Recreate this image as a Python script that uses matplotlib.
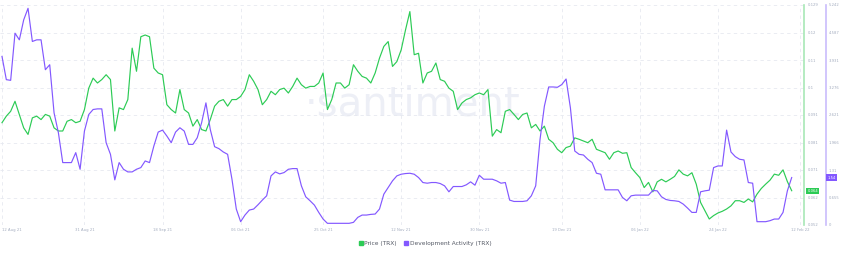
import matplotlib
matplotlib.use('Agg')
import matplotlib.pyplot as plt
import matplotlib.dates as mdates
from matplotlib.lines import Line2D
import numpy as np
import pandas as pd

# daily values, 12 Aug 2021 onwards
start = '2021-08-12'

price = [
    0.0878, 0.0901, 0.0918, 0.0953, 0.0907, 0.0860, 0.0837, 0.0895, 0.0901, 0.0889,
    0.0907, 0.0901, 0.0860, 0.0849, 0.0849, 0.0883, 0.0889, 0.0878, 0.0883, 0.0924,
    0.0999, 0.1034, 0.1017, 0.1029, 0.1046, 0.1029, 0.0849, 0.0930, 0.0924, 0.0959,
    0.1139, 0.1058, 0.1179, 0.1185, 0.1179, 0.1069, 0.1052, 0.1046, 0.0941, 0.0924,
    0.0912, 0.0994, 0.0924, 0.0912, 0.0866, 0.0889,
    0.0854, 0.0849, 0.0889, 0.0936, 0.0953, 0.0959, 0.0936, 0.0959, 0.0959, 0.0970,
    0.0994, 0.1046, 0.1023, 0.0994, 0.0941, 0.0959, 0.0988, 0.0976, 0.0994, 0.0999,
    0.0982, 0.1005, 0.1034, 0.1011, 0.0999, 0.1005, 0.1005, 0.1017, 0.1052, 0.0924,
    0.0959, 0.1017, 0.1017, 0.0999, 0.1011, 0.1081, 0.1058, 0.1040, 0.1034, 0.1017,
    0.1052, 0.1104, 0.1145, 0.1162, 0.1075, 0.1092,
    0.1133, 0.1203, 0.1267, 0.1116, 0.1121, 0.1017, 0.1052, 0.1058, 0.1087, 0.1029,
    0.1023, 0.0999, 0.0988, 0.0924, 0.0947, 0.0959, 0.0965, 0.0976, 0.0982, 0.0976,
    0.0994, 0.0831, 0.0854, 0.0843, 0.0918, 0.0924, 0.0907, 0.0889, 0.0907, 0.0912,
    0.0860, 0.0872, 0.0849, 0.0866, 0.0820, 0.0808, 0.0785, 0.0773, 0.0791, 0.0796,
    0.0825, 0.0820, 0.0814, 0.0808, 0.0820, 0.0785,
    0.0779, 0.0773, 0.0750, 0.0773, 0.0779, 0.0771, 0.0773, 0.0721, 0.0703, 0.0686,
    0.0651, 0.0669, 0.0636, 0.0671, 0.0680, 0.0671, 0.0680, 0.0690, 0.0713, 0.0698,
    0.0692, 0.0703, 0.0663, 0.0599, 0.0570, 0.0541, 0.0553, 0.0562, 0.0568, 0.0576,
    0.0587, 0.0605, 0.0605, 0.0599, 0.0611, 0.0601, 0.0628, 0.0648, 0.0663, 0.0677,
    0.0698, 0.0694, 0.0713, 0.0672, 0.0640,
]

dev_activity = [
    4.017, 3.463, 3.447, 4.570, 4.412, 4.887, 5.163, 4.373, 4.412, 4.412,
    3.700, 3.819, 2.673, 2.198, 1.487, 1.487, 1.487, 1.724, 1.328, 2.238,
    2.633, 2.752, 2.767, 2.767, 1.961, 1.684, 1.075, 1.487, 1.328, 1.265,
    1.265, 1.328, 1.368, 1.526, 1.487, 1.882, 2.214, 2.261, 2.119, 1.961,
    2.214, 2.317, 2.238, 1.921, 1.921, 2.080,
    2.435, 2.910, 2.277, 1.866, 1.819, 1.740, 1.684, 1.091, 0.380, 0.079,
    0.237, 0.356, 0.380, 0.482, 0.593, 0.696, 1.170, 1.265, 1.218, 1.249,
    1.328, 1.344, 1.344, 0.933, 0.672, 0.577, 0.474, 0.300, 0.142, 0.040,
    0.040, 0.040, 0.040, 0.040, 0.040, 0.063, 0.182, 0.237, 0.237, 0.253,
    0.261, 0.380, 0.735, 0.894, 1.052, 1.170,
    1.210, 1.226, 1.233, 1.210, 1.131, 1.012, 0.996, 1.012, 1.012, 0.988,
    0.933, 0.791, 0.917, 0.917, 0.917, 0.957, 1.028, 0.949, 1.186, 1.091,
    1.091, 1.091, 1.052, 0.996, 1.012, 0.593, 0.561, 0.561, 0.561, 0.577,
    0.696, 0.933, 2.040, 2.831, 3.289, 3.289, 3.281, 3.345, 3.479, 2.791,
    1.763, 1.684, 1.668, 1.566, 1.487, 1.233,
    1.210, 0.838, 0.838, 0.838, 0.838, 0.656, 0.577, 0.696, 0.712, 0.712,
    0.712, 0.712, 0.822, 0.814, 0.672, 0.609, 0.585, 0.577, 0.561, 0.498,
    0.403, 0.300, 0.300, 0.791, 0.814, 0.830, 1.368, 1.407, 1.407, 2.261,
    1.740, 1.629, 1.566, 1.550, 1.012, 0.996, 0.079, 0.079, 0.079, 0.103,
    0.142, 0.142, 0.300, 0.814, 1.131,
]

date_ticks = ['2021-08-12', '2021-08-31', '2021-09-18', '2021-10-06', '2021-10-25',
              '2021-11-12', '2021-11-30', '2021-12-19', '2022-01-06', '2022-01-24',
              '2022-02-12']
price_ticks = ['0.052', '0.062', '0.071', '0.081', '0.091', '0.1', '0.11', '0.12', '0.129']
dev_ticks = ['0', '0.655', '1.31', '1.966', '2.621', '3.276', '3.931', '4.587', '5.242']
price_last = '0.064'
dev_last = '1.54'

GREEN = '#2ccb55'
PURPLE = '#8358ff'
LABEL = '#a3acbf'
GRID = '#e6e9f0'

dates = pd.date_range(start, periods=len(price), freq='D')

fig = plt.figure(figsize=(8.5, 2.54), dpi=100)
ax = fig.add_axes([0, 29 / 254, 804 / 850, 220 / 254])
ax2 = ax.twinx()

ax.plot(dates, price, color=GREEN, lw=0.85, zorder=3)
ax2.plot(dates, dev_activity, color=PURPLE, lw=0.85, zorder=3)

ax.set_xlim(pd.Timestamp(start) - pd.Timedelta(hours=11), pd.Timestamp('2022-02-12 20:00'))
ax.set_ylim(0.052, 0.129)
ax2.set_ylim(0, 5.242)

ax.set_xticks(pd.to_datetime(date_ticks))
ax.xaxis.set_major_formatter(mdates.DateFormatter('%d %b %y'))
ax.tick_params(axis='x', length=0, pad=2, labelsize=2.7, labelcolor=LABEL)
ax.get_xticklabels()[0].set_horizontalalignment('left')

ax.yaxis.tick_right()
ax.set_yticks(np.linspace(0.052, 0.129, len(price_ticks)))
ax.set_yticklabels(price_ticks)
ax.tick_params(axis='y', length=0, pad=3, labelsize=2.7, labelcolor=LABEL)

ax2.set_yticks(np.linspace(0, 5.242, len(dev_ticks)))
ax2.set_yticklabels(dev_ticks)
ax2.tick_params(axis='y', length=0, pad=2, labelsize=2.7, labelcolor=LABEL)

ax.grid(True, color=GRID, lw=0.6, ls=(0, (4, 4)))
for a in (ax, ax2):
    for s in ('top', 'left', 'bottom', 'right'):
        a.spines[s].set_visible(False)
ax.spines['right'].set_visible(True)
ax.spines['right'].set_color('#a8e8b6')
ax.spines['right'].set_linewidth(1.2)
ax2.spines['right'].set_visible(True)
ax2.spines['right'].set_color('#c9bcfc')
ax2.spines['right'].set_linewidth(1.2)
ax2.spines['right'].set_position(('axes', 826 / 804))

# current value badges
ax.annotate(price_last, xy=(1, price[-1]), xycoords=('axes fraction', 'data'),
            xytext=(2.5, 0), textcoords='offset points', va='center', ha='left',
            fontsize=2.7, color='white',
            bbox=dict(boxstyle='square,pad=0.3', fc=GREEN, ec='none'))
ax2.annotate(dev_last, xy=(826 / 804, dev_activity[-1]), xycoords=('axes fraction', 'data'),
             xytext=(1, 0), textcoords='offset points', va='center', ha='left',
             fontsize=2.7, color='white',
             bbox=dict(boxstyle='square,pad=0.3', fc=PURPLE, ec='none'))

# watermark
ax.text(413 / 804, 0.55, '\u00b7santiment', transform=ax.transAxes, fontsize=29,
        color='#edeff6', ha='center', va='center', zorder=0)

handles = [Line2D([], [], marker='s', ls='none', color=GREEN, markersize=3),
           Line2D([], [], marker='s', ls='none', color=PURPLE, markersize=3)]
fig.legend(handles, ['Price (TRX)', 'Development Activity (TRX)'],
           loc='center', bbox_to_anchor=(425 / 850, 1 - 243 / 254), ncol=2,
           frameon=False, fontsize=4.2, labelcolor='#555a66',
           handletextpad=0.2, columnspacing=1.2, handlelength=0.8)

fig.savefig('out.png', dpi=100)
